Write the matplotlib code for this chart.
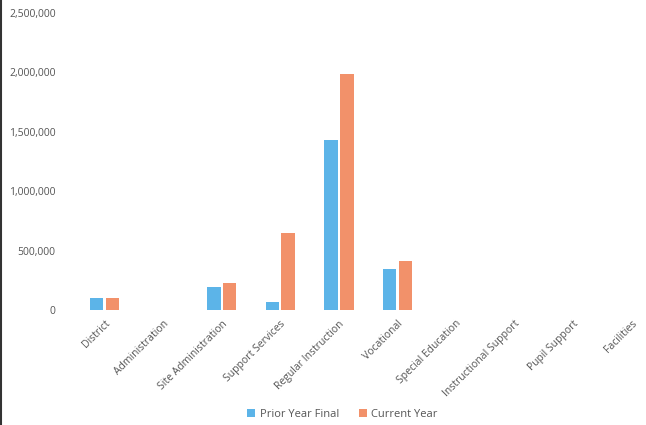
"""
Budget comparison chart: prior year final vs current year by function.
"""

import matplotlib
matplotlib.use("Agg")
import matplotlib.pyplot as plt
import numpy as np
from matplotlib.ticker import FuncFormatter

categories = ["District", "Administration", "Site Administration", "Support Services",
              "Regular Instruction", "Vocational", "Special Education",
              "Instructional Support", "Pupil Support", "Facilities"]
prior_year = [100000, 0, 196000, 70000, 1430000, 342000, 0, 0, 0, 0]
current_year = [100000, 0, 224000, 645000, 1990000, 412000, 0, 0, 0, 0]
y_ticks = [0, 500000, 1000000, 1500000, 2000000, 2500000]

BLUE = "#5cb4e8"
ORANGE = "#f2916a"
TEXT = "#555555"

plt.rcParams["font.family"] = ["Open Sans", "DejaVu Sans"]

fig = plt.figure(figsize=(6.46, 4.25), dpi=100)
ax = fig.add_axes([0.1164, 0.2706, 0.907, 0.6988])

x = np.arange(len(categories))
w = 0.23
ax.bar(x - 0.135, prior_year, width=w, color=BLUE, label="Prior Year Final")
ax.bar(x + 0.135, current_year, width=w, color=ORANGE, label="Current Year")

ax.set_xlim(-0.5, len(categories) - 0.5)
ax.set_ylim(0, 2500000)
ax.set_yticks(y_ticks)
ax.yaxis.set_major_formatter(FuncFormatter(lambda v, p: f"{int(v):,}"))
ax.set_xticks(x)
ax.set_xticklabels(categories, rotation=45, ha="right", rotation_mode="anchor")

ax.tick_params(axis="both", length=0, colors=TEXT, labelsize=7.5)
ax.tick_params(axis="y", pad=14)
ax.tick_params(axis="x", pad=6)
for s in ax.spines.values():
    s.set_visible(False)

fig.legend(loc="lower center", bbox_to_anchor=(0.53, -0.012), ncol=2, frameon=False,
           fontsize=8, handlelength=0.7, handleheight=0.7, handletextpad=0.4,
           columnspacing=1.8, labelcolor=TEXT)

# scan edge on the left
fig.add_artist(plt.Line2D([0.002, 0.002], [0, 1], color="#333333", lw=1.5,
                          transform=fig.transFigure))

fig.savefig("out.png", dpi=100)
plt.close(fig)
